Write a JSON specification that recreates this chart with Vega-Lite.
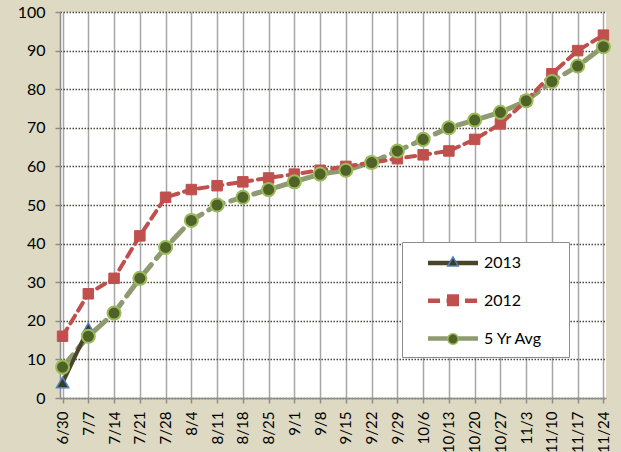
{
  "$schema": "https://vega.github.io/schema/vega-lite/v6.json",
  "width": 546,
  "height": 386,
  "autosize": {"type": "none"},
  "padding": {"left": 60, "top": 12, "right": 15, "bottom": 54},
  "background": "#DDD9C3",
  "config": {
    "view": {"fill": "white", "stroke": null},
    "font": "Lato",
    "axis": {"labelFont": "Lato", "labelColor": "#000000", "labelFontSize": 16, "tickSize": 5, "tickColor": "#8C8C8C", "tickWidth": 1.5, "domainColor": "#8C8C8C", "domainWidth": 1.5, "title": null}
  },
  "data": {"values": [
    {"date": "6/30", "series": "2013", "value": 4},
    {"date": "7/7", "series": "2013", "value": 18},
    {"date": "6/30", "series": "2012", "value": 16},
    {"date": "7/7", "series": "2012", "value": 27},
    {"date": "7/14", "series": "2012", "value": 31},
    {"date": "7/21", "series": "2012", "value": 42},
    {"date": "7/28", "series": "2012", "value": 52},
    {"date": "8/4", "series": "2012", "value": 54},
    {"date": "8/11", "series": "2012", "value": 55},
    {"date": "8/18", "series": "2012", "value": 56},
    {"date": "8/25", "series": "2012", "value": 57},
    {"date": "9/1", "series": "2012", "value": 58},
    {"date": "9/8", "series": "2012", "value": 59},
    {"date": "9/15", "series": "2012", "value": 60},
    {"date": "9/22", "series": "2012", "value": 61},
    {"date": "9/29", "series": "2012", "value": 62},
    {"date": "10/6", "series": "2012", "value": 63},
    {"date": "10/13", "series": "2012", "value": 64},
    {"date": "10/20", "series": "2012", "value": 67},
    {"date": "10/27", "series": "2012", "value": 71},
    {"date": "11/3", "series": "2012", "value": 77},
    {"date": "11/10", "series": "2012", "value": 84},
    {"date": "11/17", "series": "2012", "value": 90},
    {"date": "11/24", "series": "2012", "value": 94},
    {"date": "6/30", "series": "5 Yr Avg", "value": 8},
    {"date": "7/7", "series": "5 Yr Avg", "value": 16},
    {"date": "7/14", "series": "5 Yr Avg", "value": 22},
    {"date": "7/21", "series": "5 Yr Avg", "value": 31},
    {"date": "7/28", "series": "5 Yr Avg", "value": 39},
    {"date": "8/4", "series": "5 Yr Avg", "value": 46},
    {"date": "8/11", "series": "5 Yr Avg", "value": 50},
    {"date": "8/18", "series": "5 Yr Avg", "value": 52},
    {"date": "8/25", "series": "5 Yr Avg", "value": 54},
    {"date": "9/1", "series": "5 Yr Avg", "value": 56},
    {"date": "9/8", "series": "5 Yr Avg", "value": 58},
    {"date": "9/15", "series": "5 Yr Avg", "value": 59},
    {"date": "9/22", "series": "5 Yr Avg", "value": 61},
    {"date": "9/29", "series": "5 Yr Avg", "value": 64},
    {"date": "10/6", "series": "5 Yr Avg", "value": 67},
    {"date": "10/13", "series": "5 Yr Avg", "value": 70},
    {"date": "10/20", "series": "5 Yr Avg", "value": 72},
    {"date": "10/27", "series": "5 Yr Avg", "value": 74},
    {"date": "11/3", "series": "5 Yr Avg", "value": 77},
    {"date": "11/10", "series": "5 Yr Avg", "value": 82},
    {"date": "11/17", "series": "5 Yr Avg", "value": 86},
    {"date": "11/24", "series": "5 Yr Avg", "value": 91}
  ]},
  "encoding": {
    "x": {
      "field": "date", "type": "ordinal",
      "sort": ["6/30","7/7","7/14","7/21","7/28","8/4","8/11","8/18","8/25","9/1","9/8","9/15","9/22","9/29","10/6","10/13","10/20","10/27","11/3","11/10","11/17","11/24"],
      "scale": {"type": "point", "padding": 0.1},
      "axis": {"labelAngle": -90, "labelPadding": 8, "labelFontSize": 15, "grid": true, "gridColor": "#A6A6A6", "gridWidth": 1.5, "labelBaseline": "middle", "labelAlign": "right"}
    },
    "y": {
      "field": "value", "type": "quantitative",
      "scale": {"domain": [0, 100], "nice": false},
      "axis": {"values": [0,10,20,30,40,50,60,70,80,90,100], "labelPadding": 10, "grid": true, "gridColor": "#4A4A3A", "gridDash": [1.5, 1.5], "gridWidth": 1.3}
    }
  },
  "layer": [
    {
      "transform": [{"filter": "datum.series == '5 Yr Avg'"}],
      "mark": {"type": "line", "strokeWidth": 5, "strokeCap": "round", "strokeDash": [16, 8]},
      "encoding": {
        "color": {"field": "series", "type": "nominal", "scale": {"domain": ["2013", "2012", "5 Yr Avg"], "range": ["#4A452A", "#C0504D", "#8E9A70"]},
          "legend": {"title": null, "orient": "none", "legendX": 342, "legendY": 230, "fillColor": "white", "strokeColor": "#8C8C8C", "padding": 8.5,
            "symbolType": "M0.5,0L5.5,0M12.8,0L12.8,0", "symbolSize": 400, "symbolStrokeWidth": 4.5, "labelFontSize": 16, "labelFont": "Lato", "labelColor": "#000000", "labelOffset": 48.5, "rowPadding": 15.8, "labelLimit": 300,
            "encode": {
              "symbols": {"update": {"strokeDash": {"signal": "datum.value == '2012' ? [12, 6.5] : datum.value == '5 Yr Avg' ? [20, 10] : [1, 0]"}, "strokeCap": {"value": "butt"}}}
            }}}
      }
    },
    {
      "transform": [{"filter": "datum.series == '2012'"}],
      "mark": {"type": "line", "strokeWidth": 4, "strokeCap": "round", "strokeDash": [9, 6]},
      "encoding": {"color": {"field": "series", "type": "nominal"}}
    },
    {
      "transform": [{"filter": "datum.series == '2013'"}],
      "mark": {"type": "line", "strokeWidth": 4},
      "encoding": {"color": {"field": "series", "type": "nominal"}}
    },
    {
      "transform": [{"filter": "datum.series == '2013'"}],
      "mark": {"type": "point", "filled": true, "strokeWidth": 1.5, "size": 150, "opacity": 1},
      "encoding": {
        "shape": {"field": "series", "type": "nominal", "scale": {"domain": {"expr": "['2013', '2012', '5 Yr Avg']"}, "range": ["triangle-up", "square", "circle"]},
          "legend": {"title": null, "orient": "none", "legendX": 342, "legendY": 228.5, "padding": 8.5, "symbolSize": 110, "symbolStrokeWidth": 1.5, "labelFontSize": 25, "labelExpr": "''", "rowPadding": 12.8, "symbolOffset": 30}},
        "fill": {"field": "series", "type": "nominal", "scale": {"domain": {"expr": "['2013', '2012', '5 Yr Avg']"}, "range": ["#3B3A25", "#C0504D", "#4F6228"]}},
        "stroke": {"field": "series", "type": "nominal", "scale": {"domain": {"expr": "['2013', '2012', '5 Yr Avg']"}, "range": ["#4F81BD", "#C0504D", "#9BBB59"]}}
      }
    },
    {
      "transform": [{"filter": "datum.series == '2012'"}],
      "mark": {"type": "point", "filled": true, "strokeWidth": 1, "size": 110, "opacity": 1},
      "encoding": {"shape": {"field": "series", "type": "nominal"}, "fill": {"field": "series", "type": "nominal"}, "stroke": {"field": "series", "type": "nominal"}}
    },
    {
      "transform": [{"filter": "datum.series == '5 Yr Avg'"}],
      "mark": {"type": "point", "filled": true, "strokeWidth": 2, "size": 170, "opacity": 1},
      "encoding": {"shape": {"field": "series", "type": "nominal"}, "fill": {"field": "series", "type": "nominal"}, "stroke": {"field": "series", "type": "nominal"}}
    }
  ]
}
